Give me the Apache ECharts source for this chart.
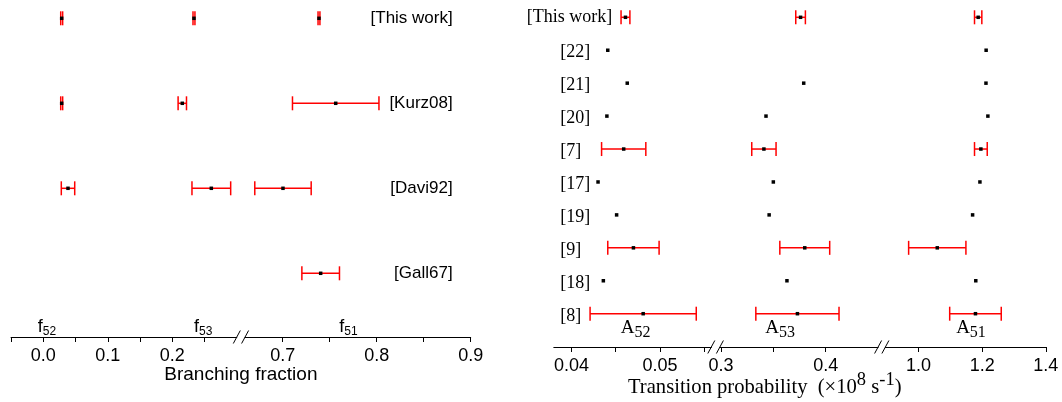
<!DOCTYPE html>
<html>
<head>
<meta charset="utf-8">
<script src="https://cdn.jsdelivr.net/npm/echarts@6/dist/echarts.min.js"></script>
<style>
    html, body { margin: 0; padding: 0; background: #fff; }
    #chart { width: 1062px; height: 402px; }
</style>
</head>
<body>
<div id="chart"></div>
<script>
(function () {

    // branching fractions (left panel)
    var bfRefs = ['[This work]', '[Kurz08]', '[Davi92]', '[Gall67]'];
    var f52 = [0.0285, 0.0285, 0.0383, null];
    var f52Err = [0.0015, 0.0015, 0.0104, 0];
    var f53 = [0.2336, 0.2155, 0.2605, null];
    var f53Err = [0.0015, 0.0065, 0.030, 0];
    var f51 = [0.7386, 0.7564, 0.7003, 0.7404];
    var f51Err = [0.001, 0.046, 0.030, 0.020];

    // transition probabilities, 1e8 s^-1 (right panel)
    var tpRefs = ['[This work]', '[22]', '[21]', '[20]', '[7]', '[17]', '[19]', '[9]', '[18]', '[8]'];
    var a52 = [0.0461, 0.0441, 0.0463, 0.0440, 0.0459, 0.0430, 0.0451, 0.0470, 0.0436, 0.0481];
    var a52Err = [0.0005, 0, 0, 0, 0.0025, 0, 0, 0.0029, 0, 0.0060];
    var a53 = [0.376, null, 0.379, 0.343, 0.341, 0.350, 0.346, 0.380, 0.363, 0.373];
    var a53Err = [0.0046, 0, 0, 0, 0.0116, 0, 0, 0.0238, 0, 0.0397];
    var a51 = [1.1875, 1.2125, 1.212, 1.218, 1.196, 1.193, 1.170, 1.059, 1.180, 1.179];
    var a51Err = [0.0115, 0, 0, 0, 0.020, 0, 0, 0.090, 0, 0.081];

    // axis ticks and labels
    var bfTicksLow = [-0.05, 0, 0.05, 0.1, 0.15, 0.2, 0.25];
    var bfLabelsLow = [0, 0.1, 0.2];
    var bfTicksHigh = [0.7, 0.75, 0.8, 0.85, 0.9];
    var bfLabelsHigh = [0.7, 0.8, 0.9];
    var tpTicksA = [0.04, 0.045, 0.05, 0.055];
    var tpLabelsA = [0.04, 0.05];
    var tpTicksB = [0.3, 0.35, 0.4];
    var tpLabelsB = [0.3, 0.4];
    var tpTicksC = [1.0, 1.2, 1.4];
    var tpLabelsC = [1.0, 1.2, 1.4];

    // line symbols written above the axes: [letter, subscript, axis value, x axis index]
    var symbols = [
        ['f', '52', 0.0057, 0],
        ['f', '53', 0.248, 0],
        ['f', '51', 0.770, 1],
        ['A', '52', 0.04725, 2],
        ['A', '53', 0.3564, 3],
        ['A', '51', 1.165, 4]
    ];

    var SANS = 'Liberation Sans, Arial, sans-serif';
    var SERIF = 'Liberation Serif, Times New Roman, serif';

    var chart = echarts.init(document.getElementById('chart'), null, { renderer: 'canvas' });

    function grid(left, width, top, height) {
        return { left: left, width: width, top: top, height: height, outerBoundsMode: 'none' };
    }

    function xAxis(gridIndex, min, max, ticks, labels, dec, offset) {
        return {
            type: 'value',
            gridIndex: gridIndex,
            min: min,
            max: max,
            position: 'bottom',
            offset: offset,
            axisLine: { show: true, onZero: false, lineStyle: { color: '#000', width: 1 } },
            axisTick: { show: true, inside: false, length: 5, customValues: ticks, lineStyle: { color: '#000', width: 1 } },
            axisLabel: {
                customValues: labels,
                formatter: function (v) { return v.toFixed(dec); },
                margin: 10,
                color: '#000',
                fontSize: 18,
                fontFamily: SANS
            },
            splitLine: { show: false }
        };
    }

    function yAxis(gridIndex, refs, label, position, offset) {
        return {
            type: 'category',
            gridIndex: gridIndex,
            data: refs,
            inverse: true,
            boundaryGap: false,
            position: position || 'left',
            offset: offset || 0,
            axisLine: { show: false },
            axisTick: { show: false },
            splitLine: { show: false },
            axisLabel: label || { show: false }
        };
    }

    function renderErrBar(params, api) {
        var x = api.value(0);
        var y = api.value(1);
        var e = api.value(2);
        var c = api.coord([x, y]);
        var kids = [];
        if (e > 0) {
            var l = api.coord([x - e, y])[0];
            var r = api.coord([x + e, y])[0];
            var red = { stroke: '#ff0000', lineWidth: 1.5 };
            kids.push({ type: 'line', shape: { x1: l, y1: c[1], x2: r, y2: c[1] }, style: red });
            kids.push({ type: 'line', shape: { x1: l, y1: c[1] - 7, x2: l, y2: c[1] + 7 }, style: red });
            kids.push({ type: 'line', shape: { x1: r, y1: c[1] - 7, x2: r, y2: c[1] + 7 }, style: red });
        }
        kids.push({ type: 'rect', shape: { x: c[0] - 1.75, y: c[1] - 1.75, width: 3.5, height: 3.5 }, style: { fill: '#000' } });
        return { type: 'group', children: kids };
    }

    function errSeries(axisIndex, vals, errs) {
        var data = [];
        vals.forEach(function (v, i) {
            if (v != null) data.push([v, i, errs[i]]);
        });
        return {
            type: 'custom',
            xAxisIndex: axisIndex,
            yAxisIndex: axisIndex,
            data: data,
            encode: { x: 0, y: 1 },
            renderItem: renderErrBar,
            clip: false,
            silent: true
        };
    }

    var option = {
        backgroundColor: '#fff',
        animation: false,
        grid: [
            grid(11.05, 225.75, 18.3, 255),
            grid(245.1, 225.6, 18.3, 255),
            grid(553.8, 157.5, 17.3, 296.4),
            grid(719.9, 158.2, 17.3, 296.4),
            grid(885.4, 160.4, 17.3, 296.4)
        ],
        xAxis: [
            xAxis(0, -0.05, 0.30, bfTicksLow, bfLabelsLow, 1, 63.7),
            xAxis(1, 0.66, 0.90, bfTicksHigh, bfLabelsHigh, 1, 63.7),
            xAxis(2, 0.038, 0.0558, tpTicksA, tpLabelsA, 2, 33.3),
            xAxis(3, 0.299, 0.45, tpTicksB, tpLabelsB, 1, 33.3),
            xAxis(4, 0.896, 1.4, tpTicksC, tpLabelsC, 1, 33.3)
        ],
        yAxis: [
            yAxis(0, bfRefs),
            yAxis(1, bfRefs, {
                show: true, inside: true, margin: 18, interval: 0,
                color: '#000', fontSize: 17, fontFamily: SANS
            }, 'right'),
            yAxis(2, tpRefs, {
                show: true, margin: 0, interval: 0,
                color: '#000', fontSize: 18, fontFamily: SERIF,
                formatter: function (v) {
                    return v === '[This work]' ? v : '{s|' + v + '}';
                },
                rich: { s: { width: 52, align: 'left', padding: [5, 0, 0, 0], fontSize: 18, fontFamily: SERIF, color: '#000' } }
            }, 'left', -58.5),
            yAxis(3, tpRefs),
            yAxis(4, tpRefs)
        ],
        series: [
            errSeries(0, f52, f52Err),
            errSeries(0, f53, f53Err),
            errSeries(1, f51, f51Err),
            errSeries(2, a52, a52Err),
            errSeries(3, a53, a53Err),
            errSeries(4, a51, a51Err)
        ]
    };

    chart.setOption(option);

    // break marks, symbol labels and axis titles
    function px(axisIndex, v) {
        return chart.convertToPixel({ xAxisIndex: axisIndex }, v);
    }

    function slash(x, y) {
        return {
            type: 'line',
            shape: { x1: x - 3.5, y1: y + 6.5, x2: x + 3.5, y2: y - 6.5 },
            style: { stroke: '#000', lineWidth: 1 }
        };
    }

    var graphics = [
        slash(px(0, 0.30), 337), slash(px(1, 0.66), 337),
        slash(px(2, 0.0558), 347), slash(px(3, 0.299), 347),
        slash(px(3, 0.45), 347), slash(px(4, 0.896), 347)
    ];

    symbols.forEach(function (s) {
        var isF = s[0] === 'f';
        graphics.push({
            type: 'text',
            x: px(s[3], s[2]),
            y: isF ? 316 : 315,
            style: {
                text: '{m|' + s[0] + '}{s|' + s[1] + '}',
                align: 'center',
                verticalAlign: 'top',
                rich: isF ? {
                    m: { fontSize: 18, lineHeight: 22, fontFamily: SANS, fill: '#000' },
                    s: { fontSize: 12, lineHeight: 12, fontFamily: SANS, fill: '#000', verticalAlign: 'bottom' }
                } : {
                    m: { fontSize: 19, lineHeight: 26, fontFamily: SERIF, fill: '#000' },
                    s: { fontSize: 16, lineHeight: 16, fontFamily: SERIF, fill: '#000', verticalAlign: 'bottom' }
                }
            }
        });
    });

    graphics.push({
        type: 'text',
        x: (px(0, -0.05) + px(1, 0.9)) / 2,
        y: 365,
        style: {
            text: 'Branching fraction',
            align: 'center',
            verticalAlign: 'top',
            fontSize: 19,
            fontFamily: SANS,
            fill: '#000'
        }
    });

    graphics.push({
        type: 'text',
        x: 628,
        y: 371,
        style: {
            text: '{n|Transition probability  (×10}{p|8}{n| s}{p|-1}{n|)}',
            align: 'left',
            verticalAlign: 'top',
            rich: {
                n: { fontSize: 20.6, lineHeight: 34, fontFamily: SERIF, fill: '#000' },
                p: { fontSize: 18.5, lineHeight: 18, fontFamily: SERIF, fill: '#000', verticalAlign: 'top' }
            }
        }
    });

    chart.setOption({ graphic: graphics });
})();
</script>
</body>
</html>
